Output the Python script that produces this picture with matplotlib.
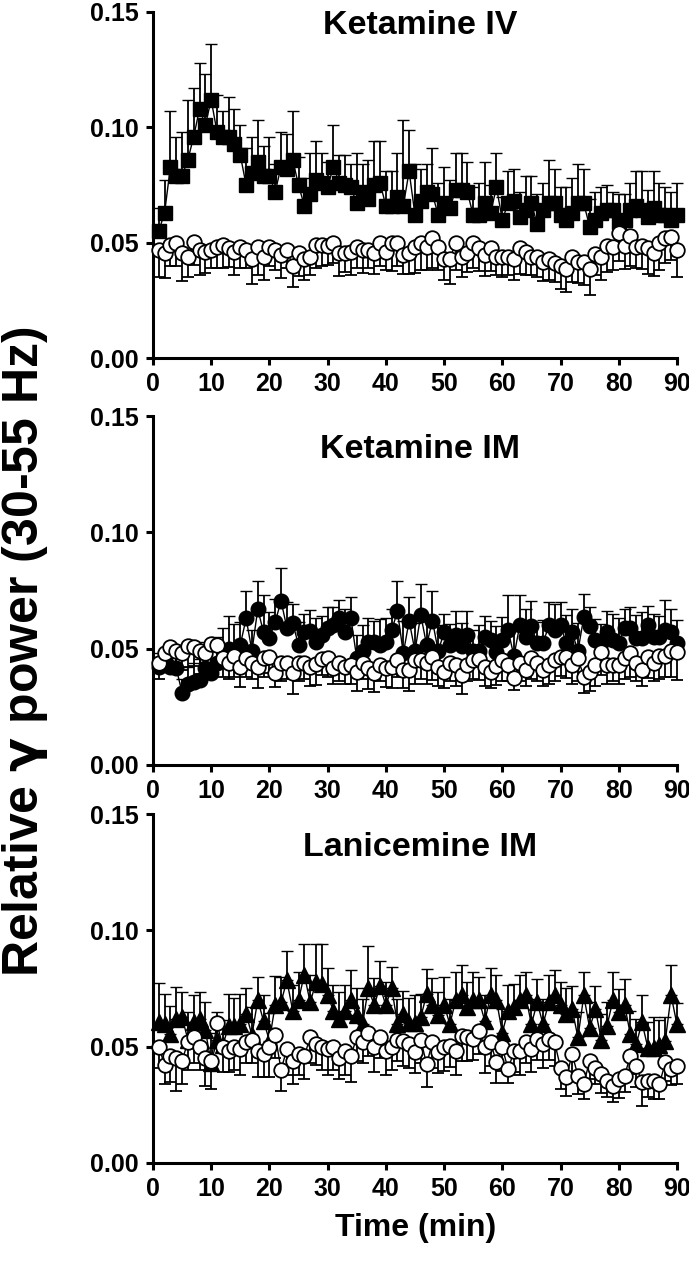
import numpy as np
import matplotlib
matplotlib.use("Agg")
import matplotlib.pyplot as plt

plt.rcParams['font.family'] = ['Liberation Sans', 'DejaVu Sans']
plt.rcParams['font.weight'] = 'bold'
plt.rcParams['mathtext.fontset'] = 'dejavusans'

# time points (min)
minutes = np.arange(1, 91)

# ---- Ketamine IV ----
kiv_drug = [0.055, 0.063, 0.083, 0.079, 0.079, 0.086, 0.096, 0.108, 0.101, 0.112,
            0.098, 0.096, 0.096, 0.093, 0.088, 0.075, 0.080, 0.085, 0.079, 0.079,
            0.072, 0.083, 0.082, 0.086, 0.075, 0.066, 0.071, 0.077, 0.076, 0.074,
            0.083, 0.076, 0.075, 0.074, 0.067, 0.072, 0.069, 0.075, 0.076, 0.066,
            0.066, 0.070, 0.066, 0.081, 0.062, 0.068, 0.072, 0.071, 0.062, 0.067,
            0.065, 0.073, 0.073, 0.072, 0.062, 0.062, 0.067, 0.063, 0.074, 0.060,
            0.067, 0.068, 0.061, 0.064, 0.067, 0.058, 0.064, 0.067, 0.067, 0.062,
            0.060, 0.063, 0.067, 0.067, 0.057, 0.060, 0.063, 0.064, 0.064, 0.059,
            0.060, 0.064, 0.066, 0.064, 0.061, 0.065, 0.062, 0.062, 0.060, 0.062]
kiv_drug_err = [0.010, 0.014, 0.024, 0.017, 0.019, 0.026, 0.021, 0.020, 0.022, 0.024,
                0.016, 0.011, 0.017, 0.015, 0.013, 0.016, 0.016, 0.018, 0.013, 0.017,
                0.012, 0.015, 0.015, 0.021, 0.012, 0.012, 0.018, 0.017, 0.013, 0.011,
                0.018, 0.012, 0.013, 0.010, 0.022, 0.012, 0.017, 0.019, 0.018, 0.015,
                0.015, 0.019, 0.037, 0.018, 0.022, 0.014, 0.012, 0.020, 0.014, 0.016,
                0.012, 0.016, 0.016, 0.013, 0.012, 0.014, 0.018, 0.012, 0.015, 0.010,
                0.014, 0.014, 0.011, 0.015, 0.012, 0.013, 0.012, 0.019, 0.015, 0.012,
                0.014, 0.015, 0.017, 0.015, 0.012, 0.012, 0.011, 0.011, 0.008, 0.012,
                0.011, 0.012, 0.015, 0.017, 0.012, 0.016, 0.014, 0.012, 0.012, 0.014]
kiv_ctrl = [0.047, 0.0455, 0.049, 0.050, 0.0455, 0.044, 0.0505, 0.047, 0.046, 0.047,
            0.048, 0.049, 0.0475, 0.046, 0.048, 0.047, 0.043, 0.048, 0.044, 0.048,
            0.047, 0.0445, 0.047, 0.040, 0.0455, 0.043, 0.044, 0.049, 0.049, 0.0485,
            0.050, 0.0455, 0.0455, 0.046, 0.048, 0.047, 0.047, 0.0455, 0.0498, 0.046,
            0.0498, 0.0498, 0.0445, 0.0455, 0.048, 0.050, 0.048, 0.052, 0.048, 0.043,
            0.043, 0.050, 0.044, 0.0455, 0.050, 0.0476, 0.0446, 0.0476, 0.044, 0.044,
            0.044, 0.043, 0.0476, 0.046, 0.044, 0.044, 0.0416, 0.043, 0.041, 0.040,
            0.0385, 0.044, 0.0416, 0.0416, 0.0385, 0.045, 0.044, 0.0485, 0.048, 0.054,
            0.0485, 0.053, 0.048, 0.0485, 0.0476, 0.0455, 0.050, 0.052, 0.0523, 0.047]
kiv_ctrl_err = [0.012, 0.011, 0.009, 0.010, 0.012, 0.009, 0.010, 0.011, 0.009, 0.008,
                0.009, 0.010, 0.008, 0.010, 0.009, 0.008, 0.011, 0.012, 0.010, 0.008,
                0.009, 0.010, 0.008, 0.009, 0.010, 0.009, 0.008, 0.010, 0.009, 0.008,
                0.009, 0.010, 0.008, 0.010, 0.009, 0.010, 0.008, 0.009, 0.010, 0.008,
                0.012, 0.010, 0.008, 0.009, 0.011, 0.012, 0.010, 0.013, 0.010, 0.009,
                0.011, 0.012, 0.009, 0.008, 0.011, 0.010, 0.009, 0.010, 0.008, 0.009,
                0.008, 0.009, 0.011, 0.010, 0.008, 0.009, 0.008, 0.009, 0.008, 0.010,
                0.010, 0.011, 0.009, 0.010, 0.011, 0.009, 0.010, 0.011, 0.010, 0.012,
                0.010, 0.013, 0.009, 0.010, 0.011, 0.010, 0.012, 0.011, 0.010, 0.012]

# ---- Ketamine IM ----
kim_drug = [0.042, 0.045, 0.042, 0.0417, 0.031, 0.035, 0.0357, 0.0365, 0.0417, 0.0395,
            0.044, 0.046, 0.050, 0.0486, 0.0516, 0.063, 0.049, 0.067, 0.057, 0.0546,
            0.0615, 0.0705, 0.059, 0.061, 0.0516, 0.057, 0.0576, 0.053, 0.056, 0.059,
            0.060, 0.063, 0.057, 0.063, 0.046, 0.049, 0.053, 0.053, 0.0516, 0.053,
            0.058, 0.066, 0.048, 0.062, 0.049, 0.0645, 0.0516, 0.062, 0.049, 0.057,
            0.0516, 0.056, 0.051, 0.056, 0.049, 0.049, 0.055, 0.0537, 0.0486, 0.0537,
            0.058, 0.0468, 0.060, 0.055, 0.0597, 0.0524, 0.0524, 0.060, 0.058, 0.060,
            0.0524, 0.057, 0.049, 0.0636, 0.0597, 0.0537, 0.0524, 0.057, 0.0537, 0.0524,
            0.059, 0.059, 0.0546, 0.0546, 0.060, 0.055, 0.055, 0.058, 0.057, 0.0524]
kim_drug_err = [0.006, 0.005, 0.006, 0.007, 0.006, 0.007, 0.008, 0.009, 0.011, 0.010,
                0.011, 0.013, 0.014, 0.012, 0.010, 0.012, 0.009, 0.012, 0.016, 0.011,
                0.010, 0.014, 0.011, 0.008, 0.010, 0.008, 0.009, 0.010, 0.008, 0.009,
                0.008, 0.008, 0.010, 0.009, 0.010, 0.011, 0.010, 0.009, 0.011, 0.010,
                0.009, 0.013, 0.014, 0.010, 0.012, 0.0135, 0.012, 0.013, 0.011, 0.008,
                0.009, 0.010, 0.010, 0.010, 0.009, 0.011, 0.009, 0.008, 0.011, 0.010,
                0.015, 0.012, 0.013, 0.012, 0.011, 0.009, 0.010, 0.010, 0.011, 0.010,
                0.012, 0.010, 0.012, 0.010, 0.008, 0.009, 0.008, 0.009, 0.011, 0.011,
                0.008, 0.009, 0.010, 0.011, 0.0085, 0.010, 0.009, 0.013, 0.010, 0.010]
kim_ctrl = [0.044, 0.048, 0.0507, 0.049, 0.048, 0.051, 0.0507, 0.049, 0.048, 0.052,
            0.0516, 0.046, 0.044, 0.047, 0.042, 0.046, 0.044, 0.042, 0.046, 0.0464,
            0.0395, 0.044, 0.044, 0.0395, 0.044, 0.044, 0.042, 0.0434, 0.0455, 0.046,
            0.0417, 0.044, 0.042, 0.043, 0.040, 0.044, 0.0417, 0.0395, 0.043, 0.0417,
            0.042, 0.045, 0.041, 0.041, 0.045, 0.045, 0.044, 0.0464, 0.042, 0.040,
            0.044, 0.043, 0.0387, 0.043, 0.045, 0.0455, 0.042, 0.040, 0.0425, 0.045,
            0.043, 0.0374, 0.044, 0.041, 0.046, 0.044, 0.041, 0.043, 0.045, 0.0464,
            0.0464, 0.043, 0.046, 0.038, 0.040, 0.043, 0.0486, 0.043, 0.043, 0.043,
            0.046, 0.048, 0.044, 0.041, 0.0464, 0.044, 0.047, 0.047, 0.049, 0.0486]
kim_ctrl_err = [0.007, 0.008, 0.009, 0.008, 0.007, 0.009, 0.008, 0.010, 0.009, 0.008,
                0.009, 0.008, 0.007, 0.009, 0.0085, 0.008, 0.007, 0.009, 0.008, 0.007,
                0.006, 0.008, 0.007, 0.009, 0.008, 0.007, 0.008, 0.009, 0.007, 0.008,
                0.007, 0.008, 0.007, 0.008, 0.008, 0.007, 0.009, 0.008, 0.007, 0.008,
                0.009, 0.007, 0.008, 0.009, 0.010, 0.008, 0.009, 0.010, 0.008, 0.007,
                0.008, 0.009, 0.008, 0.007, 0.008, 0.009, 0.008, 0.007, 0.008, 0.009,
                0.007, 0.005, 0.008, 0.007, 0.009, 0.008, 0.007, 0.008, 0.009, 0.008,
                0.009, 0.008, 0.010, 0.007, 0.008, 0.009, 0.010, 0.008, 0.007, 0.008,
                0.009, 0.010, 0.008, 0.007, 0.009, 0.008, 0.010, 0.009, 0.011, 0.012]

# ---- Lanicemine IM ----
lim_drug = [0.0604, 0.0596, 0.0553, 0.0617, 0.0626, 0.053, 0.0604, 0.0617, 0.057, 0.043,
            0.053, 0.0505, 0.059, 0.059, 0.0596, 0.064, 0.055, 0.070, 0.061, 0.0526,
            0.068, 0.069, 0.0785, 0.0655, 0.070, 0.081, 0.069, 0.0776, 0.077, 0.072,
            0.0655, 0.0617, 0.0655, 0.070, 0.0634, 0.0596, 0.0754, 0.0677, 0.076, 0.0677,
            0.0754, 0.0596, 0.064, 0.060, 0.060, 0.0626, 0.0725, 0.0677, 0.0634, 0.068,
            0.0596, 0.070, 0.072, 0.067, 0.070, 0.070, 0.061, 0.072, 0.070, 0.056,
            0.0655, 0.067, 0.070, 0.072, 0.0596, 0.069, 0.0596, 0.069, 0.072, 0.0677,
            0.064, 0.066, 0.054, 0.072, 0.058, 0.066, 0.053, 0.059, 0.070, 0.0647,
            0.068, 0.0553, 0.051, 0.0604, 0.0496, 0.0496, 0.0505, 0.0526, 0.072, 0.0596]
lim_drug_err = [0.017, 0.013, 0.012, 0.014, 0.011, 0.012, 0.012, 0.012, 0.012, 0.013,
                0.012, 0.011, 0.0135, 0.012, 0.013, 0.011, 0.012, 0.010, 0.011, 0.012,
                0.0125, 0.011, 0.0124, 0.011, 0.012, 0.013, 0.012, 0.0167, 0.017, 0.012,
                0.011, 0.012, 0.011, 0.013, 0.012, 0.011, 0.018, 0.012, 0.011, 0.010,
                0.009, 0.011, 0.010, 0.011, 0.012, 0.010, 0.011, 0.012, 0.010, 0.012,
                0.011, 0.012, 0.013, 0.011, 0.012, 0.010, 0.011, 0.012, 0.011, 0.010,
                0.011, 0.010, 0.011, 0.010, 0.011, 0.010, 0.011, 0.012, 0.011, 0.010,
                0.011, 0.010, 0.011, 0.010, 0.011, 0.010, 0.011, 0.010, 0.012, 0.010,
                0.011, 0.010, 0.011, 0.012, 0.011, 0.013, 0.011, 0.010, 0.013, 0.009]
lim_ctrl = [0.050, 0.042, 0.046, 0.045, 0.044, 0.052, 0.054, 0.050, 0.045, 0.044,
            0.060, 0.050, 0.048, 0.050, 0.049, 0.052, 0.053, 0.048, 0.047, 0.050,
            0.055, 0.040, 0.049, 0.044, 0.047, 0.046, 0.054, 0.051, 0.050, 0.049,
            0.050, 0.045, 0.048, 0.046, 0.054, 0.052, 0.056, 0.050, 0.054, 0.048,
            0.050, 0.053, 0.0525, 0.051, 0.0475, 0.053, 0.0425, 0.0518, 0.0475, 0.0497,
            0.0504, 0.048, 0.0547, 0.054, 0.0532, 0.0568, 0.0497, 0.0518, 0.0432, 0.0497,
            0.0403, 0.048, 0.048, 0.0518, 0.049, 0.0532, 0.051, 0.0532, 0.0518, 0.041,
            0.0368, 0.0468, 0.0375, 0.034, 0.0439, 0.041, 0.0382, 0.0354, 0.0332, 0.0361,
            0.0375, 0.0461, 0.0418, 0.0346, 0.0354, 0.0354, 0.034, 0.0432, 0.0403, 0.0418]
lim_ctrl_err = [0.009, 0.008, 0.011, 0.014, 0.010, 0.012, 0.011, 0.010, 0.012, 0.012,
                0.010, 0.011, 0.009, 0.010, 0.011, 0.009, 0.010, 0.011, 0.010, 0.013,
                0.010, 0.009, 0.011, 0.010, 0.009, 0.010, 0.011, 0.009, 0.010, 0.011,
                0.010, 0.009, 0.010, 0.011, 0.010, 0.009, 0.010, 0.011, 0.009, 0.010,
                0.010, 0.009, 0.011, 0.010, 0.009, 0.010, 0.010, 0.011, 0.009, 0.010,
                0.009, 0.010, 0.011, 0.010, 0.009, 0.010, 0.011, 0.010, 0.009, 0.010,
                0.006, 0.009, 0.010, 0.009, 0.010, 0.009, 0.010, 0.009, 0.010, 0.009,
                0.008, 0.009, 0.008, 0.0065, 0.008, 0.007, 0.008, 0.007, 0.007, 0.008,
                0.007, 0.008, 0.009, 0.010, 0.007, 0.008, 0.0065, 0.008, 0.007, 0.008]

panels = [
    ("Ketamine IV", kiv_drug, kiv_drug_err, kiv_ctrl, kiv_ctrl_err, 's', 10.5, 0.962),
    ("Ketamine IM", kim_drug, kim_drug_err, kim_ctrl, kim_ctrl_err, 'o', 10.5, 0.905),
    ("Lanicemine IM", lim_drug, lim_drug_err, lim_ctrl, lim_ctrl_err, '^', 12, 0.905),
]

# axes boxes in figure fractions (left, bottom, width, height)
boxes = [(0.222, 0.7165, 0.7605, 0.274),
         (0.222, 0.3943, 0.7605, 0.2763),
         (0.222, 0.0792, 0.7605, 0.2763)]

fig = plt.figure(figsize=(6.89, 12.63), dpi=100)

for (title, drug, derr, ctrl, cerr, mk, ms, ty), box in zip(panels, boxes):
    ax = fig.add_axes(box)
    drug = np.array(drug)
    ctrl = np.array(ctrl)
    derr = np.array(derr)
    cerr = np.array(cerr)
    zeros = np.zeros_like(drug)

    # drug group: filled markers, error bars pointing up
    ax.errorbar(minutes, drug, yerr=[zeros, derr], fmt='-', color='black',
                lw=1.0, elinewidth=1.3, capsize=4.5, capthick=1.3,
                marker=mk, ms=ms, mfc='black', mec='black', mew=1.0,
                clip_on=False, zorder=2)
    # control group: open circles, error bars pointing down
    ax.errorbar(minutes, ctrl, yerr=[cerr, zeros], fmt='-', color='black',
                lw=1.0, elinewidth=1.3, capsize=4.5, capthick=1.3,
                marker='o', ms=10.5, mfc='white', mec='black', mew=1.3,
                clip_on=False, zorder=3)

    ax.set_xlim(0, 90)
    ax.set_ylim(0, 0.15)
    ax.set_xticks(np.arange(0, 91, 10))
    ax.set_yticks([0.0, 0.05, 0.10, 0.15])
    ax.set_yticklabels(['0.00', '0.05', '0.10', '0.15'])
    for s in ['top', 'right']:
        ax.spines[s].set_visible(False)
    for s in ['left', 'bottom']:
        ax.spines[s].set_linewidth(2.2)
    ax.tick_params(direction='out', length=5, width=2.2, labelsize=18, pad=5)
    for lab in ax.get_xticklabels() + ax.get_yticklabels():
        lab.set_fontweight('bold')
    ax.text(0.51, ty, title, transform=ax.transAxes, ha='center', va='center',
            fontsize=24.5, fontweight='bold')

fig.text(0.603, 1 - 1228 / 1263, 'Time (min)', ha='center', va='center',
         fontsize=23, fontweight='bold')
fig.text(0.036, 1 - 652 / 1263, r'Relative $\mathrm{\gamma}$ power (30-55 Hz)',
         ha='center', va='center', rotation=90, fontsize=36, fontweight='bold')

fig.savefig('out.png', dpi=100)
